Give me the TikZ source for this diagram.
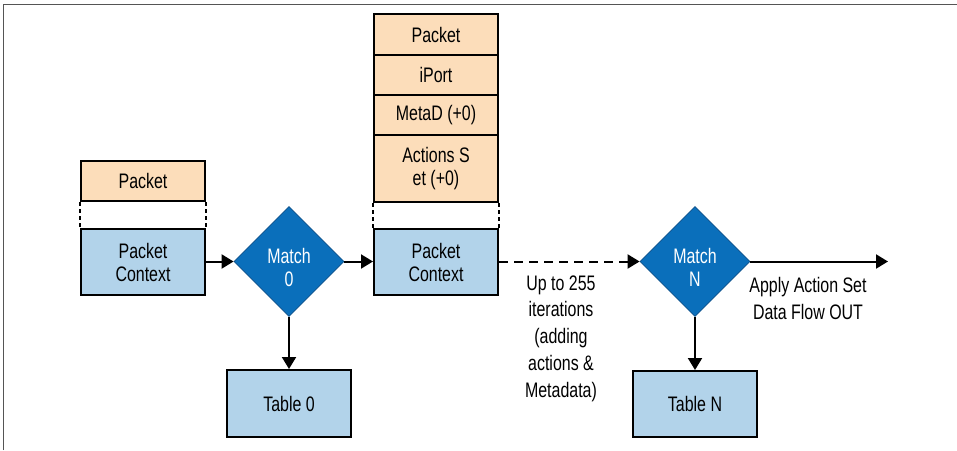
\documentclass[tikz,border=0pt]{standalone}
\usepackage{fontspec}
\setmainfont{Liberation Sans}[FakeStretch=0.76]
\usetikzlibrary{shapes.geometric,arrows.meta}
\definecolor{peach}{HTML}{FCDDBA}
\definecolor{lblue}{HTML}{B2D3EA}
\definecolor{dblue}{HTML}{0A6FBB}
\definecolor{dblueedge}{HTML}{0A4F8A}
\definecolor{frame}{HTML}{555555}
\tikzset{
  box/.style={draw=black, line width=2pt, minimum width=124pt, inner sep=0pt, align=center,
    font=\fontsize{21}{23}\selectfont},
  orange/.style={box, fill=peach},
  blue/.style={box, fill=lblue},
  match/.style={shape=diamond, aspect=1, fill=dblue, draw=dblueedge, line width=0.8pt,
    minimum width=110pt, minimum height=110pt, inner sep=0pt},
  matchtext/.style={text=white, align=center, font=\fontsize{21}{23}\selectfont, inner sep=0pt},
  conn/.style={line width=2pt, -{Triangle[length=12pt,width=14pt]}},
  gap/.style={line width=2pt, dash pattern=on 4pt off 3pt},
  lbl/.style={align=center, font=\fontsize{21}{26.7}\selectfont, inner sep=0pt},
}
\begin{document}
\begin{tikzpicture}[x=1pt,y=-1pt]
\useasboundingbox (0,0) rectangle (957,450);
\draw[frame, line width=1.6pt] (3.5,450) -- (3.5,4.5) -- (957,4.5);

% left stack
\node[orange, minimum height=40pt] (pk1) at (143,181) {Packet};
\node[blue, minimum height=66pt] (pc1) at (143,262) {Packet\\Context};
\draw[gap] (pk1.south west) -- (pc1.north west);
\draw[gap] (pk1.south east) -- (pc1.north east);

% Match 0
\node[match] (m0) at (289,261.5) {};
\node[matchtext] (m0t) at (289,267) {Match\\0};
\node[blue, minimum height=67pt] (t0) at (289,403.5) {Table 0};

% middle stack
\node[orange, minimum height=41pt] (pk2) at (436,34.5) {Packet};
\node[orange, minimum height=40pt] (ip2) at (436,75) {iPort};
\node[orange, minimum height=40pt] (md2) at (436,115) {MetaD (+0)};
\node[orange, minimum height=67pt] (as2) at (436,168.5) {Actions S\\et (+0)};
\node[blue, minimum height=66pt] (pc2) at (436,262) {Packet\\Context};
\draw[gap] (as2.south west) -- (pc2.north west);
\draw[gap] (as2.south east) -- (pc2.north east);

% Match N
\node[match] (mN) at (695,261.5) {};
\node[matchtext] (mNt) at (695,267) {Match\\N};
\node[blue, minimum height=66pt] (tN) at (695,404) {Table N};
\coordinate (out) at (888,261.5);

% connectors
\draw[conn] (pc1.east |- m0.west) -- (m0.west);
\draw[conn] (m0.east) -- (pc2.west |- m0.east);
\draw[conn] (m0.south) -- (t0.north);
\draw[conn, dash pattern=on 9pt off 6pt] (pc2.east |- mN.west) -- (mN.west);
\draw[conn] (mN.south) -- (tN.north);
\draw[conn] (mN.east) -- (out);

% labels
\node[lbl] (iter) at (561,338.5) {Up to 255\\iterations\\(adding\\actions \&\\Metadata)};
\node[lbl] (apply) at (808,298.5) {Apply Action Set\\Data Flow OUT};
\end{tikzpicture}
\end{document}
